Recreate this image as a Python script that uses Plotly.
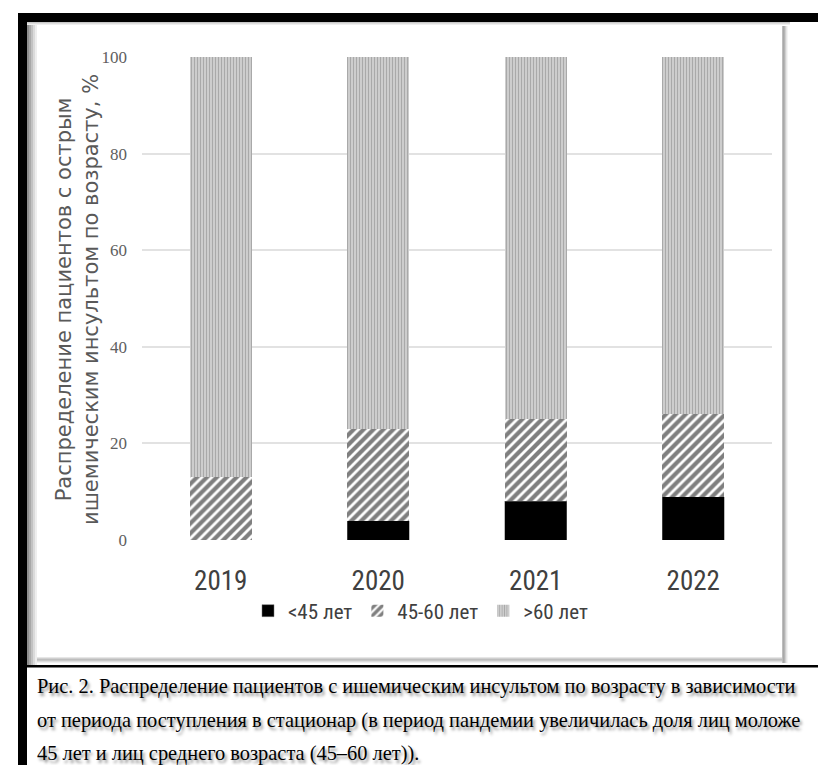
import plotly.graph_objects as go

years = ["2019", "2020", "2021", "2022"]
under45 = [0, 4, 8, 9]
mid45_60 = [13, 19, 17, 17]
over60 = [87, 77, 75, 74]
series_names = ["<45 лет", "45-60 лет", ">60 лет"]
yticks = [0, 20, 40, 60, 80, 100]
y_title = "Распределение пациентов с острым<br>ишемическим инсультом по возрасту, %"
caption_lines = [
    "Рис. 2. Распределение пациентов с ишемическим инсультом по возрасту в зависимости",
    "от периода поступления в стационар (в период пандемии увеличилась доля лиц моложе",
    "45 лет и лиц среднего возраста (45–60 лет)).",
]

W, H = 818, 765
L, R, T, B = 142, 772, 57, 540  # plot area in pixels


def px(x):
    return (x - L) / (R - L)


def py(y):
    return (B - y) / (B - T)


NARROW = "Liberation Sans Narrow, Arial Narrow, Roboto Condensed, Liberation Sans, sans-serif"

fig = go.Figure()
fig.add_trace(go.Bar(
    x=years, y=under45, name=series_names[0],
    marker=dict(color="black", line=dict(color="#777", width=0.5)),
))
fig.add_trace(go.Bar(
    x=years, y=mid45_60, name=series_names[1],
    marker=dict(color="white", line=dict(width=0),
                pattern=dict(shape="/", fgcolor="black", bgcolor="white",
                             size=7, solidity=0.6)),
))
fig.add_trace(go.Bar(
    x=years, y=over60, name=series_names[2],
    marker=dict(color="#d0d0d0", line=dict(width=0),
                pattern=dict(shape="|", fgcolor="#7a7a7a", bgcolor="#d8d8d8",
                             size=3, solidity=0.5)),
))

shapes = []


def rect(x0, y0, x1, y1, color):
    shapes.append(dict(type="rect", xref="paper", yref="paper",
                       x0=px(x0), x1=px(x1), y0=py(y0), y1=py(y1),
                       fillcolor=color, line=dict(width=0), layer="below"))


# panel shadows
for i, c in enumerate(["#8e8e8e", "#a8a8a8", "#c2c2c2", "#dadada", "#eeeeee"]):
    rect(27 + 2 * i, 22, 29 + 2 * i, 665, c)
for i, c in enumerate(["#c8c8c8", "#dddddd", "#eeeeee"]):
    rect(27, 22 + i, 790, 23 + i, c)
for i, c in enumerate(["#e6e6e6", "#d0d0d0", "#bdbdbd", "#c8c8c8", "#dedede", "#f0f0f0"]):
    rect(37, 657 + i, 788, 658 + i, c)
for i, c in enumerate(["#bdbdbd", "#a9a9a9", "#b5b5b5", "#cfcfcf", "#e6e6e6", "#f4f4f4"]):
    rect(782 + i, 26, 783 + i, 663, c)
# black frame
rect(18, 13, 818, 22, "black")
rect(18, 13, 27, 765, "black")
rect(18, 665, 818, 667.5, "black")

annotations = [
    dict(text=y_title, textangle=-90, xref="paper", yref="paper",
         x=px(77), y=py(300), xanchor="center", yanchor="middle", showarrow=False,
         font=dict(family="DejaVu Sans, sans-serif", size=21, color="#595959")),
]
for i, line in enumerate(caption_lines):
    annotations.append(dict(
        text=line, xref="paper", yref="paper", x=px(35), y=py(686 + 34 * i),
        xanchor="left", yanchor="middle", showarrow=False,
        font=dict(family="Liberation Serif, Times New Roman, serif", size=20.4, color="black",
                  shadow="2px 3px 3px rgba(0,0,0,0.45)"),
    ))

fig.update_layout(
    width=W, height=H,
    margin=dict(l=L, r=W - R, t=T, b=H - B, pad=0),
    paper_bgcolor="white", plot_bgcolor="white",
    barmode="stack", bargap=0.605,
    showlegend=True,
    legend=dict(orientation="h", x=px(248), y=py(611), xanchor="left", yanchor="middle",
                traceorder="normal", font=dict(family=NARROW, size=21, color="#404040"),
                itemclick=False, bgcolor="rgba(0,0,0,0)"),
    shapes=shapes, annotations=annotations,
)
fig.update_xaxes(showgrid=False, showline=False, zeroline=False, ticks="",
                 tickfont=dict(family=NARROW, size=27, color="#404040"),
                 ticklabelstandoff=22, fixedrange=True)
fig.update_yaxes(range=[0, 100], tickvals=yticks, showgrid=True, gridcolor="#e2e2e2",
                 gridwidth=1.5, zeroline=False, showline=False, ticks="",
                 tickfont=dict(family="Liberation Serif, serif", size=17, color="#606060"),
                 ticklabelstandoff=14, fixedrange=True)

fig.write_html("out.html")
